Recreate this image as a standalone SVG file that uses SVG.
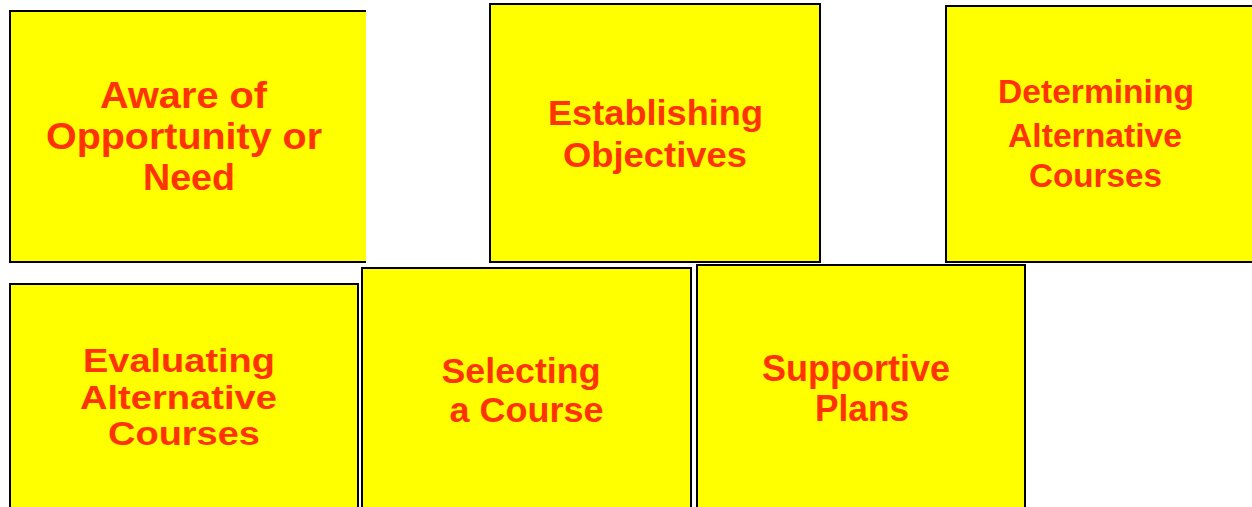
<svg xmlns="http://www.w3.org/2000/svg" width="1252" height="507" viewBox="0 0 1252 507">
<style>
.box{fill:#FFFF00;stroke:#000;stroke-width:2}
.fill{fill:#FFFF00}
.edge{fill:none;stroke:#000;stroke-width:2}
.t{font-family:"Liberation Sans",Arial,sans-serif;font-weight:bold;fill:#FF3300}
</style>
<rect width="1252" height="507" fill="#fff"/>
<g id="n1">
<rect class="fill" x="10" y="11" width="356" height="251"/>
<path class="edge" d="M366 11 H10 V262 H366"/>
<text class="t" font-size="36" x="100" y="108" textLength="167" lengthAdjust="spacingAndGlyphs">Aware of</text>
<text class="t" font-size="36" x="46" y="149" textLength="276" lengthAdjust="spacingAndGlyphs">Opportunity or</text>
<text class="t" font-size="36" x="143" y="190" textLength="92" lengthAdjust="spacingAndGlyphs">Need</text>
</g>
<g id="n2">
<rect class="box" x="490" y="4" width="330" height="258"/>
<text class="t" font-size="35" x="548" y="125" textLength="215" lengthAdjust="spacingAndGlyphs">Establishing</text>
<text class="t" font-size="35" x="563" y="167" textLength="184" lengthAdjust="spacingAndGlyphs">Objectives</text>
</g>
<g id="n3">
<rect class="fill" x="946" y="6" width="310" height="256"/>
<path class="edge" d="M1256 6 H946 V262 H1256"/>
<text class="t" font-size="33" x="998" y="103" textLength="196" lengthAdjust="spacingAndGlyphs">Determining</text>
<text class="t" font-size="33" x="1008" y="146.5" textLength="174" lengthAdjust="spacingAndGlyphs">Alternative</text>
<text class="t" font-size="33" x="1029" y="187" textLength="133" lengthAdjust="spacingAndGlyphs">Courses</text>
</g>
<g id="n4">
<rect class="box" x="10" y="284" width="348" height="240"/>
<text class="t" font-size="33" x="83" y="371.5" textLength="192" lengthAdjust="spacingAndGlyphs">Evaluating</text>
<text class="t" font-size="33" x="80" y="408.5" textLength="197" lengthAdjust="spacingAndGlyphs">Alternative</text>
<text class="t" font-size="33" x="108" y="445" textLength="152" lengthAdjust="spacingAndGlyphs">Courses</text>
</g>
<g id="n5">
<rect class="box" x="362" y="268" width="329" height="256"/>
<text class="t" font-size="35" x="441.5" y="382.5" textLength="159" lengthAdjust="spacingAndGlyphs">Selecting</text>
<text class="t" font-size="35" x="449.5" y="421.5" textLength="154" lengthAdjust="spacingAndGlyphs">a Course</text>
</g>
<g id="n6">
<rect class="box" x="697" y="265" width="328" height="260"/>
<text class="t" font-size="36" x="762" y="381" textLength="188" lengthAdjust="spacingAndGlyphs">Supportive</text>
<text class="t" font-size="36" x="815" y="420.5" textLength="94" lengthAdjust="spacingAndGlyphs">Plans</text>
</g>
<g id="connectors"></g>
</svg>
